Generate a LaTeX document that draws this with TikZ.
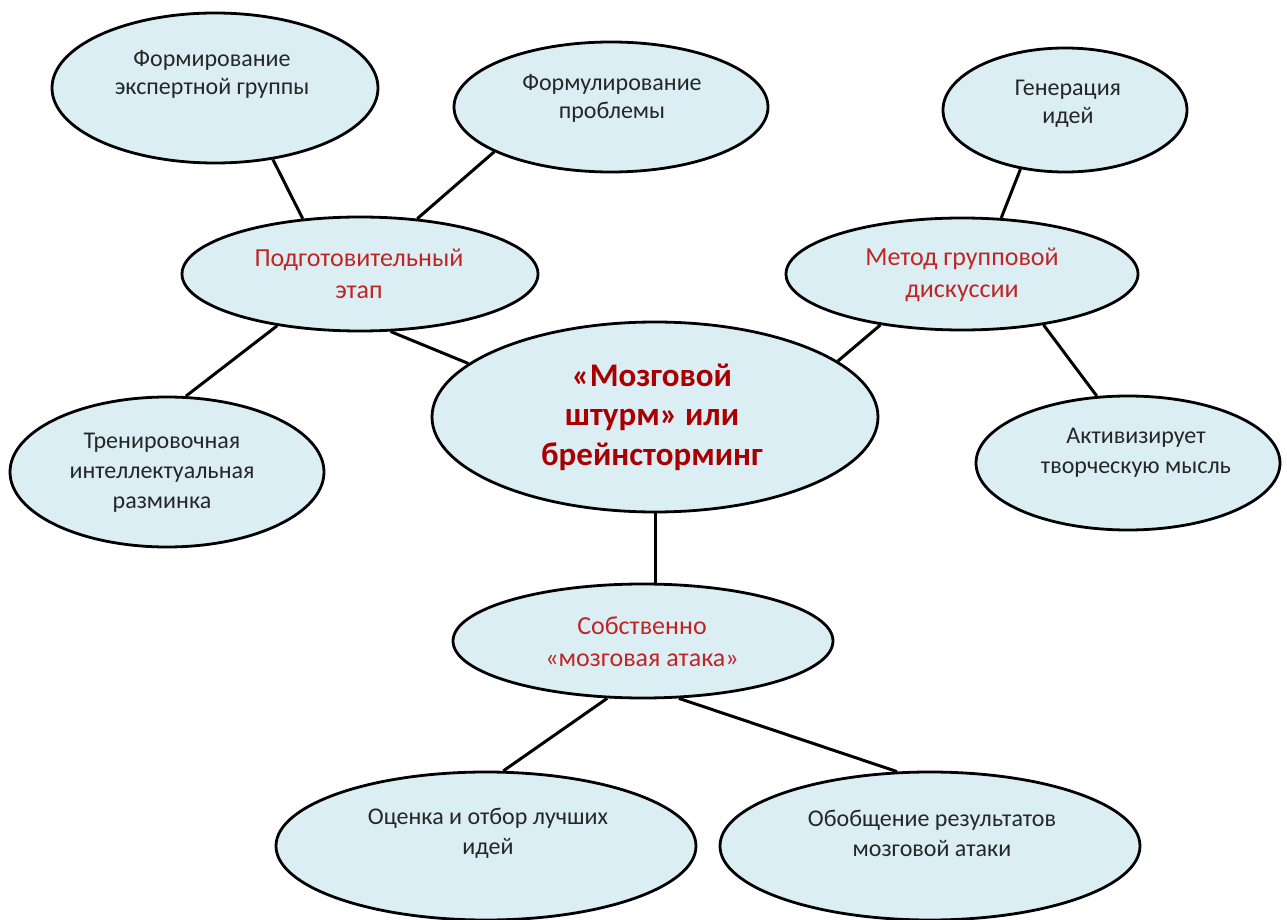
\documentclass[tikz,border=0pt]{standalone}
\usepackage{fontspec}
\setmainfont{Carlito}
\usetikzlibrary{shapes.geometric}
\definecolor{bubblefill}{HTML}{DBEEF4}
\definecolor{hot}{HTML}{A80000}
\definecolor{warm}{HTML}{C02525}
\definecolor{ink}{HTML}{262626}
\begin{document}
\begin{tikzpicture}[x=0.5pt,y=-0.5pt,
  bubble/.style={ellipse, draw=black, line width=1.4pt, fill=bubblefill, inner sep=0pt},
  plain/.style={align=center, text=ink, inner sep=0pt, font=\fontsize{12}{15}\selectfont},
  topic/.style={align=center, text=ink, inner sep=0pt, font=\fontsize{12}{14}\selectfont},
  stage/.style={align=center, text=warm, inner sep=0pt, font=\fontsize{13}{16}\selectfont},
  core/.style={align=center, text=hot, inner sep=0pt, font=\fontsize{16.5}{19.8}\selectfont\bfseries},
  link/.style={line width=1.5pt, draw=black}]
\useasboundingbox[fill=white] (0,0) rectangle (1287,920);

% ellipses: minimum width/height in pt equal the pixel radii
\node[bubble, minimum width=163pt, minimum height=75pt] (e1) at (215,88) {};
\node[bubble, minimum width=157pt, minimum height=65pt] (e2) at (611,107) {};
\node[bubble, minimum width=122pt, minimum height=62pt] (e3) at (1065,110) {};
\node[bubble, minimum width=178pt, minimum height=57pt] (e4) at (360,274) {};
\node[bubble, minimum width=176pt, minimum height=56pt] (e5) at (962,274) {};
\node[bubble, minimum width=223pt, minimum height=95pt] (e6) at (655,417) {};
\node[bubble, minimum width=157pt, minimum height=75pt] (e7) at (167,472) {};
\node[bubble, minimum width=152pt, minimum height=67pt] (e8) at (1128,463) {};
\node[bubble, minimum width=190pt, minimum height=57pt] (e9) at (643,641) {};
\node[bubble, minimum width=210pt, minimum height=74pt] (e10) at (486,846) {};
\node[bubble, minimum width=210pt, minimum height=74pt] (e11) at (930,846) {};

% captions
\node[topic] (t1) at (212,74) {Формирование\\экспертной группы};
\node[topic] (t2) at (612,98) {Формулирование\\проблемы};
\node[topic] (t3) at (1068,104) {Генерация\\идей};
\node[stage] (t4) at (359,274) {Подготовительный\\этап};
\node[stage] (t5) at (962,275) {Метод групповой\\дискуссии};
\node[core] (t6) at (652,417) {«Мозговой\\штурм» или\\брейнсторминг};
\node[plain] (t7) at (162,473) {Тренировочная\\интеллектуальная\\разминка};
\node[plain] (t8) at (1136,453) {Активизирует\\творческую мысль};
\node[stage] (t9) at (642,642) {Собственно\\«мозговая атака»};
\node[plain] (t10) at (488,833) {Оценка и отбор лучших\\идей};
\node[plain] (t11) at (932,833) {Обобщение результатов\\мозговой атаки};

% connectors
\draw[link] (e1.309.7) -- (e4.136.9);
\draw[link] (e2.201.7) -- (e4.44);
\draw[link] (e4.298.2) -- (e6.164.5);
\draw[link] (e4.212) -- (e7.76.5);
\draw[link] (e3.233.4) -- (e5.55.1);
\draw[link] (e5.212) -- (e6.17.6);
\draw[link] (e5.328.3) -- (e8.115.2);
\draw[link] (e6.south) -- (e6.south |- e9.north);
\draw[link] (e9.238.7) -- (e10.77.1);
\draw[link] (e9.302.7) -- (e11.114.97);
\end{tikzpicture}
\end{document}
